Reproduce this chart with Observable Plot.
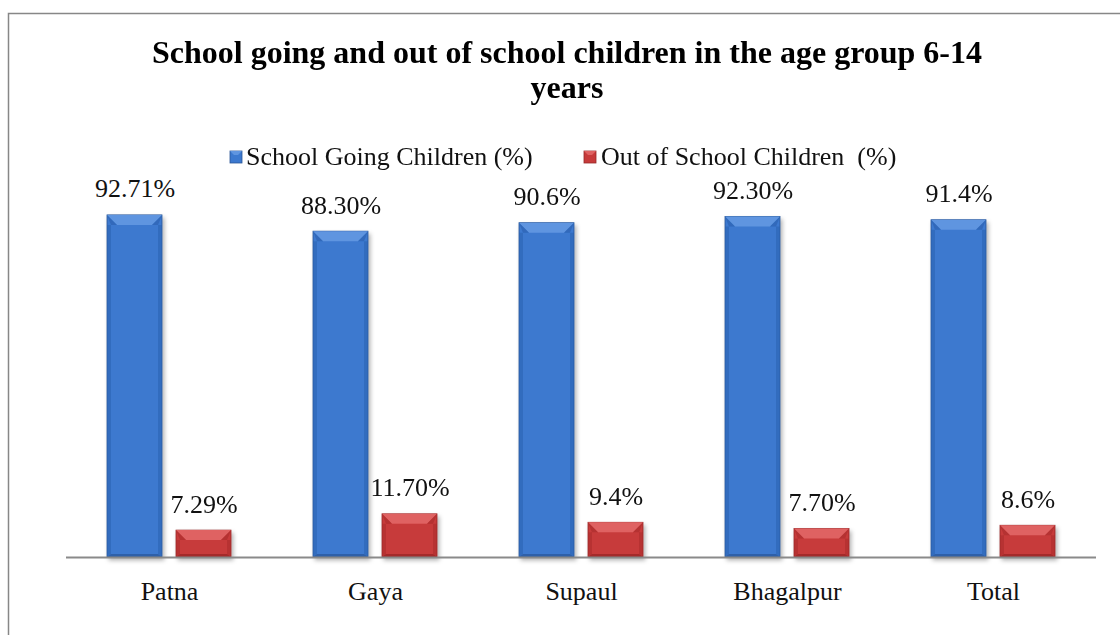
<!DOCTYPE html>
<html>
<head>
<meta charset="utf-8">
<script src="https://cdn.jsdelivr.net/npm/d3@7"></script>
<script src="https://cdn.jsdelivr.net/npm/@observablehq/plot@0.6"></script>
<style>
  html, body { margin: 0; padding: 0; background: #fff; }
  #chart { width: 1120px; height: 635px; overflow: hidden; }
</style>
</head>
<body>
<div id="chart"></div>
<script>
const title = ["School going and out of school children in the age group 6-14", "years"];
const districts = ["Patna", "Gaya", "Supaul", "Bhagalpur", "Total"];
const seriesNames = ["School Going Children (%)", "Out of School Children  (%)"];
const schoolGoing = [92.71, 88.30, 90.6, 92.30, 91.4];
const outOfSchool = [7.29, 11.70, 9.4, 7.70, 8.6];
const schoolGoingLabels = ["92.71%", "88.30%", "90.6%", "92.30%", "91.4%"];
const outOfSchoolLabels = ["7.29%", "11.70%", "9.4%", "7.70%", "8.6%"];

const rows = districts.flatMap((d, i) => [
  {district: d, series: seriesNames[0], value: schoolGoing[i], label: schoolGoingLabels[i]},
  {district: d, series: seriesNames[1], value: outOfSchool[i], label: outOfSchoolLabels[i]}
]);

const FONT = "'Liberation Serif', 'Times New Roman', serif";
const palette = {
  blue: {base: "#3c79cf", top: "#5f95e0", side: "#2a5fae", bottom: "#23508f", stroke: "#2a5596"},
  red:  {base: "#c73b3b", top: "#df6262", side: "#a82c2c", bottom: "#8c2222", stroke: "#962a2a"}
};

const plot = Plot.plot({
  width: 1120,
  height: 635,
  marginTop: 188,
  marginBottom: 78,
  marginLeft: 65,
  marginRight: 23,
  style: {fontFamily: FONT, background: "#fff", overflow: "visible"},
  fx: {domain: districts, padding: 0, label: null},
  x: {domain: seriesNames, paddingInner: 0.2, paddingOuter: 0.574, axis: null},
  y: {domain: [0, 100], axis: null},
  color: {type: "ordinal", domain: seriesNames, range: [palette.blue.base, palette.red.base]},
  marks: [
    Plot.barY(rows, {fx: "district", x: "series", y: "value", fill: "series"}),
    Plot.ruleY([0], {stroke: "#8a8a8a", strokeWidth: 2}),
    Plot.text(rows, {fx: "district", x: "series", y: "value", text: "label",
      lineAnchor: "bottom", dy: -18, fontSize: 26, fill: "#111", fontFamily: FONT}),
    Plot.axisFx({anchor: "bottom", tickSize: 0, tickPadding: 24, fontSize: 26, label: null, fill: "#111", fontFamily: FONT})
  ]
});

document.getElementById("chart").appendChild(plot);
const svg = d3.select(plot);

// Bevel decoration derived from the rendered bars
const barGroup = svg.select('g[aria-label="bar"]');
barGroup.attr("filter", "url(#barShadow)");
const defs = svg.insert("defs", ":first-child");
const f = defs.append("filter").attr("id", "barShadow").attr("x", "-20%").attr("y", "-20%").attr("width", "140%").attr("height", "140%");
f.append("feDropShadow").attr("dx", 2).attr("dy", 3).attr("stdDeviation", 2).attr("flood-color", "#000").attr("flood-opacity", 0.3);

barGroup.selectAll("rect").each(function() {
  const r = d3.select(this);
  const x = +r.attr("x"), y = +r.attr("y"), w = +r.attr("width"), h = +r.attr("height");
  const fill = (r.attr("fill") || "").toLowerCase();
  const p = fill === palette.red.base.toLowerCase() ? palette.red : palette.blue;
  r.attr("stroke", p.stroke).attr("stroke-width", 0.8);
  const g = d3.select(this.parentNode);
  const b = Math.min(10, h / 2.5), bb = Math.min(3, h / 6), s = 4;
  const pts = a => a.map(q => q.join(",")).join(" ");
  g.append("polygon").attr("points", pts([[x, y + b], [x + s, y + b], [x + s, y + h - bb], [x, y + h]]))
    .attr("fill", p.side).attr("opacity", 0.5);
  g.append("polygon").attr("points", pts([[x + w, y + b], [x + w - s, y + b], [x + w - s, y + h - bb], [x + w, y + h]]))
    .attr("fill", p.side).attr("opacity", 0.5);
  g.append("polygon").attr("points", pts([[x, y + h], [x + w, y + h], [x + w - s, y + h - bb], [x + s, y + h - bb]]))
    .attr("fill", p.bottom).attr("opacity", 0.6);
  g.append("polygon").attr("points", pts([[x, y], [x + w, y], [x + w - b, y + b], [x + b, y + b]]))
    .attr("fill", p.top);
  g.append("polygon").attr("points", pts([[x, y], [x + b, y + b], [x + s, y + b]]))
    .attr("fill", p.side).attr("opacity", 0.6);
  g.append("polygon").attr("points", pts([[x + w, y], [x + w - b, y + b], [x + w - s, y + b]]))
    .attr("fill", p.side).attr("opacity", 0.6);
});

// Outer chart border
svg.append("rect").attr("x", 8.5).attr("y", 13.5).attr("width", 1200).attr("height", 700)
  .attr("fill", "none").attr("stroke", "#878787").attr("stroke-width", 1.5);

// Title
const t = svg.append("text").attr("text-anchor", "middle").attr("font-family", FONT)
  .attr("font-weight", "bold").attr("font-size", 32).attr("fill", "#000");
t.append("tspan").attr("x", 567).attr("y", 63).text(title[0]);
t.append("tspan").attr("x", 567).attr("y", 98).text(title[1]);

// Legend
const legendItems = [
  {name: seriesNames[0], p: palette.blue, sx: 230, tx: 246},
  {name: seriesNames[1], p: palette.red, sx: 584, tx: 601}
];
legendItems.forEach(it => {
  svg.append("rect").attr("x", it.sx).attr("y", 151).attr("width", 12).attr("height", 12)
    .attr("fill", it.p.base).attr("stroke", it.p.stroke).attr("stroke-width", 0.8);
  svg.append("polygon").attr("points", `${it.sx},151 ${it.sx+12},151 ${it.sx+8},155 ${it.sx+4},155`).attr("fill", it.p.top);
  svg.append("text").attr("x", it.tx).attr("y", 165).attr("text-anchor", "start").attr("font-family", FONT).attr("font-size", 26)
    .attr("fill", "#111").attr("xml:space", "preserve").style("white-space", "pre").text(it.name);
});
</script>
</body>
</html>
